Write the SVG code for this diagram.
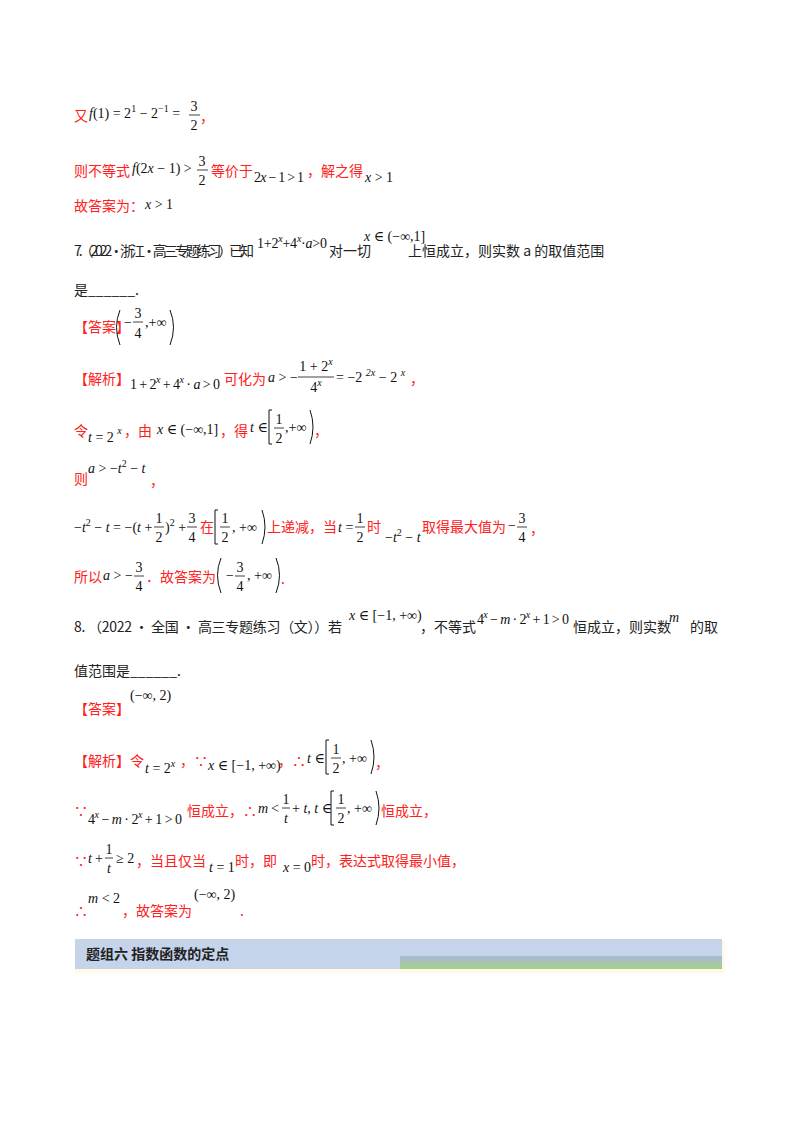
<svg xmlns="http://www.w3.org/2000/svg" width="800" height="1132" viewBox="0 0 800 1132">
<style>
text{font-size:14px}
.r{fill:#ff2020;font-family:"Noto Sans CJK SC",sans-serif;font-size:14px}
.k{fill:#222;font-family:"Noto Sans CJK SC",sans-serif;font-size:14px}
.m{fill:#111;font-family:"Liberation Serif","Times New Roman","DejaVu Serif",serif;font-size:14px}
.s{font-size:10px}
.f{fill:#111;font-family:"Liberation Serif","Times New Roman","DejaVu Serif",serif;font-size:14px;text-anchor:middle}
.bar{stroke:#111;stroke-width:0.8}
.br{fill:none;stroke:#111;stroke-width:1}
</style>
<rect width="800" height="1132" fill="#fff"/>
<defs>
<linearGradient id="g" x1="0" y1="0" x2="0" y2="1"><stop offset="0" stop-color="#a7b9da"/><stop offset="1" stop-color="#a6d184"/></linearGradient>
</defs>
<text x="74" y="121" class="r">又</text>
<text x="89" y="118" class="m"><tspan font-style="italic">f</tspan>(1) = 2<tspan class="s" dy="-6">1</tspan><tspan dy="6"> − 2</tspan><tspan class="s" dy="-6">−1</tspan><tspan dy="6"> =</tspan></text>
<text x="194" y="111" class="f">3</text><line x1="189" y1="115" x2="200" y2="115" class="bar"/><text x="194" y="130" class="f">2</text>
<text x="200" y="122" class="r">，</text>
<text x="74" y="176" class="r">则不等式</text>
<text x="132" y="173" class="m"><tspan font-style="italic">f</tspan>(2<tspan font-style="italic">x</tspan> − 1) &gt;</text>
<text x="202" y="166" class="f">3</text><line x1="197" y1="170" x2="208" y2="170" class="bar"/><text x="202" y="185" class="f">2</text>
<text x="211" y="176" class="r">等价于</text>
<text x="254" y="182" class="m" textLength="50">2<tspan font-style="italic">x</tspan> − 1 &gt; 1</text>
<text x="307" y="176" class="r">，解之得</text>
<text x="365" y="182" class="m"><tspan font-style="italic">x</tspan> &gt; 1</text>
<text x="74" y="211" class="r">故答案为：</text>
<text x="145" y="209" class="m"><tspan font-style="italic">x</tspan> &gt; 1</text>
<text x="74" y="256" class="k" textLength="180">7.  （2022 • 浙江 • 高三专题练习）已知</text>
<text x="257" y="248" class="m" textLength="70">1+2<tspan class="s" dy="-6" font-style="italic">x</tspan><tspan dy="6">+4</tspan><tspan class="s" dy="-6" font-style="italic">x</tspan><tspan dy="6">·</tspan><tspan font-style="italic">a</tspan>&gt;0</text>
<text x="329" y="256" class="k">对一切</text>
<text x="364" y="241" class="m"><tspan font-style="italic">x</tspan> ∈ (−∞,1]</text>
<text x="408" y="256" class="k">上恒成立，则实数 a 的取值范围</text>
<text x="74" y="295" class="k">是______.</text>
<text x="74" y="332" class="r">【答案】</text>
<path d="M120 310 q-7 17 0 35" class="br"/>
<text x="124" y="327" class="m">−</text>
<text x="138" y="318" class="f">3</text><line x1="133" y1="322" x2="143" y2="322" class="bar"/><text x="138" y="338" class="f">4</text>
<text x="145" y="327" class="m">,+∞</text>
<path d="M170 310 q7 17 0 35" class="br"/>
<text x="74" y="384" class="r">【解析】</text>
<text x="130" y="389" class="m" textLength="90">1 + 2<tspan class="s" dy="-6" font-style="italic">x</tspan><tspan dy="6"> + 4</tspan><tspan class="s" dy="-6" font-style="italic">x</tspan><tspan dy="6"> · </tspan><tspan font-style="italic">a</tspan> &gt; 0</text>
<text x="224" y="384" class="r">可化为</text>
<text x="268" y="382" class="m"><tspan font-style="italic">a</tspan> &gt; −</text>
<text x="316" y="371" class="f">1 + 2<tspan class="s" dy="-6" font-style="italic">x</tspan></text><line x1="298" y1="377" x2="334" y2="377" class="bar"/><text x="316" y="392" class="f">4<tspan class="s" dy="-6" font-style="italic">x</tspan></text>
<text x="336" y="382" class="m">= −2 <tspan class="s" dy="-6" font-style="italic">2x</tspan><tspan dy="6"> − 2 </tspan><tspan class="s" dy="-6" font-style="italic">x</tspan></text>
<text x="410" y="384" class="r">，</text>
<text x="74" y="436" class="r">令</text>
<text x="88" y="442" class="m"><tspan font-style="italic">t</tspan> = 2 <tspan class="s" dy="-8" font-style="italic">x</tspan></text>
<text x="124" y="436" class="r">，由</text>
<text x="157" y="434" class="m"><tspan font-style="italic">x</tspan> ∈ (−∞,1]</text>
<text x="220" y="436" class="r">，得</text>
<text x="250" y="432" class="m"><tspan font-style="italic">t</tspan> ∈</text>
<path d="M272 410 h-3 v34 h3" class="br"/>
<text x="279" y="424" class="f">1</text><line x1="274" y1="428" x2="284" y2="428" class="bar"/><text x="279" y="443" class="f">2</text>
<text x="285" y="432" class="m">,+∞</text>
<path d="M310 410 q6 17 0 34" class="br"/>
<text x="314" y="436" class="r">，</text>
<text x="74" y="484" class="r">则</text>
<text x="88" y="473" class="m"><tspan font-style="italic">a</tspan> &gt; −<tspan font-style="italic">t</tspan><tspan class="s" dy="-6">2</tspan><tspan dy="6"> − </tspan><tspan font-style="italic">t</tspan></text>
<text x="150" y="486" class="r">，</text>
<text x="74" y="532" class="m">−<tspan font-style="italic">t</tspan><tspan class="s" dy="-6">2</tspan><tspan dy="6"> − </tspan><tspan font-style="italic">t</tspan> = −(<tspan font-style="italic">t</tspan> +</text>
<text x="159" y="523" class="f">1</text><line x1="154" y1="527" x2="164" y2="527" class="bar"/><text x="159" y="542" class="f">2</text>
<text x="165" y="532" class="m">)<tspan class="s" dy="-6">2</tspan><tspan dy="6"> +</tspan></text>
<text x="192" y="523" class="f">3</text><line x1="187" y1="527" x2="197" y2="527" class="bar"/><text x="192" y="542" class="f">4</text>
<text x="200" y="532" class="r">在</text>
<path d="M218 510 h-3 v34 h3" class="br"/>
<text x="225" y="523" class="f">1</text><line x1="220" y1="527" x2="230" y2="527" class="bar"/><text x="225" y="542" class="f">2</text>
<text x="232" y="532" class="m">, +∞</text>
<path d="M262 510 q6 17 0 34" class="br"/>
<text x="267" y="532" class="r">上递减，当</text>
<text x="338" y="532" class="m"><tspan font-style="italic">t</tspan> =</text>
<text x="360" y="523" class="f">1</text><line x1="355" y1="527" x2="365" y2="527" class="bar"/><text x="360" y="542" class="f">2</text>
<text x="367" y="532" class="r">时</text>
<text x="385" y="542" class="m">−<tspan font-style="italic">t</tspan><tspan class="s" dy="-6">2</tspan><tspan dy="6"> − </tspan><tspan font-style="italic">t</tspan></text>
<text x="422" y="532" class="r">取得最大值为</text>
<text x="508" y="530" class="m">−</text>
<text x="522" y="523" class="f">3</text><line x1="517" y1="527" x2="527" y2="527" class="bar"/><text x="522" y="542" class="f">4</text>
<text x="530" y="534" class="r">，</text>
<text x="74" y="582" class="r">所以</text>
<text x="103" y="580" class="m"><tspan font-style="italic">a</tspan> &gt; −</text>
<text x="139" y="572" class="f">3</text><line x1="134" y1="576" x2="144" y2="576" class="bar"/><text x="139" y="591" class="f">4</text>
<text x="146" y="582" class="r">．故答案为</text>
<path d="M221 558 q-7 17 0 35" class="br"/>
<text x="226" y="580" class="m">−</text>
<text x="240" y="572" class="f">3</text><line x1="235" y1="576" x2="245" y2="576" class="bar"/><text x="240" y="591" class="f">4</text>
<text x="247" y="580" class="m">, +∞</text>
<path d="M276 558 q7 17 0 35" class="br"/>
<text x="281" y="584" class="r">.</text>
<text x="74" y="632" class="k" textLength="268">8.  （2022 • 全国 • 高三专题练习（文））若</text>
<text x="349" y="620" class="m"><tspan font-style="italic">x</tspan> ∈ [−1, +∞)</text>
<text x="420" y="632" class="k">，不等式</text>
<text x="477" y="624" class="m" textLength="92">4<tspan class="s" dy="-6" font-style="italic">x</tspan><tspan dy="6"> − </tspan><tspan font-style="italic">m</tspan> · 2<tspan class="s" dy="-6" font-style="italic">x</tspan><tspan dy="6"> + 1 &gt; 0</tspan></text>
<text x="573" y="632" class="k">恒成立，则实数</text>
<text x="669" y="622" class="m" font-style="italic">m</text>
<text x="690" y="632" class="k">的取</text>
<text x="74" y="676" class="k">值范围是______.</text>
<text x="74" y="714" class="r">【答案】</text>
<text x="130" y="700" class="m">(−∞, 2)</text>
<text x="74" y="766" class="r">【解析】令</text>
<text x="145" y="773" class="m"><tspan font-style="italic">t</tspan> = 2<tspan class="s" dy="-6" font-style="italic">x</tspan></text>
<text x="180" y="766" class="r">，∵</text>
<text x="208" y="770" class="m"><tspan font-style="italic">x</tspan> ∈ [−1, +∞)</text>
<text x="278" y="766" class="r">，∴</text>
<text x="307" y="763" class="m"><tspan font-style="italic">t</tspan> ∈</text>
<path d="M329 740 h-3 v34 h3" class="br"/>
<text x="336" y="754" class="f">1</text><line x1="331" y1="758" x2="341" y2="758" class="bar"/><text x="336" y="773" class="f">2</text>
<text x="342" y="763" class="m">, +∞</text>
<path d="M371 740 q6 17 0 34" class="br"/>
<text x="375" y="768" class="r">，</text>
<text x="74" y="816" class="r">∵</text>
<text x="88" y="824" class="m" textLength="94">4<tspan class="s" dy="-6" font-style="italic">x</tspan><tspan dy="6"> − </tspan><tspan font-style="italic">m</tspan> · 2<tspan class="s" dy="-6" font-style="italic">x</tspan><tspan dy="6"> + 1 &gt; 0</tspan></text>
<text x="187" y="816" class="r">恒成立，∴</text>
<text x="258" y="813" class="m" font-style="italic">m</text><text x="271" y="813" class="m">&lt;</text>
<text x="286" y="804" class="f">1</text><line x1="282" y1="808" x2="290" y2="808" class="bar"/><text x="286" y="823" class="f" font-style="italic">t</text>
<text x="292" y="813" class="m">+ <tspan font-style="italic">t</tspan>, <tspan font-style="italic">t</tspan> ∈</text>
<path d="M334 791 h-3 v34 h3" class="br"/>
<text x="341" y="804" class="f">1</text><line x1="336" y1="808" x2="346" y2="808" class="bar"/><text x="341" y="823" class="f">2</text>
<text x="347" y="813" class="m">, +∞</text>
<path d="M376 791 q6 17 0 34" class="br"/>
<text x="381" y="816" class="r">恒成立，</text>
<text x="74" y="866" class="r">∵</text>
<text x="88" y="863" class="m" font-style="italic">t</text><text x="95" y="863" class="m">+</text>
<text x="109" y="854" class="f">1</text><line x1="105" y1="858" x2="113" y2="858" class="bar"/><text x="109" y="873" class="f" font-style="italic">t</text>
<text x="116" y="863" class="m">≥ 2</text>
<text x="136" y="866" class="r">，当且仅当</text>
<text x="209" y="872" class="m"><tspan font-style="italic">t</tspan> = 1</text>
<text x="235" y="866" class="r">时，即</text>
<text x="283" y="872" class="m"><tspan font-style="italic">x</tspan> = 0</text>
<text x="311" y="866" class="r">时，表达式取得最小值，</text>
<text x="74" y="916" class="r">∴</text>
<text x="88" y="903" class="m"><tspan font-style="italic">m</tspan> &lt; 2</text>
<text x="122" y="916" class="r">，故答案为</text>
<text x="194" y="899" class="m">(−∞, 2)</text>
<text x="240" y="916" class="r">.</text>
<g id="banner">
<rect x="75" y="941" width="650" height="32" fill="#fff6d8" opacity="0.6"/>
<rect x="75" y="939" width="647" height="30" fill="#c5d3eb"/>
<rect x="400" y="956" width="322" height="13" fill="url(#g)"/>
<text x="86" y="959" font-family="'Noto Sans CJK SC',sans-serif" font-weight="bold" font-size="13" fill="#222">题组六  指数函数的定点</text>
</g>
</svg>
